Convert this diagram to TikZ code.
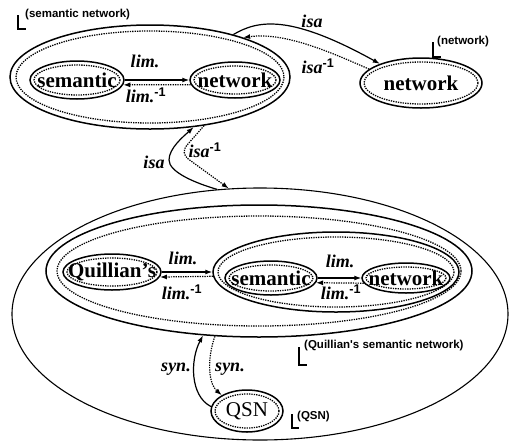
\documentclass[tikz,border=0pt]{standalone}
\usepackage{fontspec}
\setmainfont{Liberation Serif}
\newfontfamily\tagfont{Liberation Sans}
\usetikzlibrary{shapes.geometric, arrows.meta}

\newcommand{\minusone}{\textsuperscript{\tagfont\bfseries\upshape -1}}
\newcommand{\concept}[7]{%
	\node[term, minimum width=2*#4pt, minimum height=2*#5pt, label={[wordtext]center:#7}] (#1) at (#2,#3) {};
	\draw[ring] (#1.center) ellipse [x radius=#4-#6, y radius=#5-#6];
}

\begin{document}
\begin{tikzpicture}[x=1pt, y=-1pt, >={Latex[length=7pt, width=5pt]},
	term/.style={ellipse, draw, inner sep=0pt, line width=1.5pt},
	ring/.style={dash pattern=on 1.3pt off 1.1pt, line width=1.3pt},
	wordtext/.style={font=\bfseries\fontsize{21}{21}\selectfont, inner sep=0pt},
	rel/.style={font=\bfseries\itshape\fontsize{18}{18}\selectfont, inner sep=0pt},
	tag/.style={font=\tagfont\bfseries\fontsize{11.5}{11.5}\selectfont, inner sep=0pt, anchor=west},
	fwd/.style={->, line width=1.2pt},
	bwd/.style={->, dash pattern=on 1.3pt off 1.1pt, line width=1.2pt},
	corner/.style={line width=1.2pt}]
	\useasboundingbox (0,0) rectangle (512,440);

	\concept{snet}{150}{77}{140}{52}{6}{}
	\concept{sem1}{77}{80}{47}{19}{4}{semantic}
	\concept{net1}{235}{80}{45}{18}{4}{network}
	\concept{net0}{421}{83}{61}{25}{4}{network}

	\node[term, line width=1.1pt, minimum width=496pt, minimum height=252pt] (qspace) at (260,314) {};
	\concept{qsnet}{259}{271}{213}{66}{11}{}
	\concept{snet2}{336}{272}{123}{40}{5}{}
	\concept{quil}{112}{272}{49}{18}{4}{Quillian's}
	\concept{sem2}{271}{278}{46}{17}{4}{semantic}
	\concept{net2}{406}{278}{44}{15}{4}{network}
	\concept{qsn}{247}{411}{36}{21}{4}{\mdseries QSN}

	\draw[fwd] (sem1.east) -- (net1.west);
	\draw[bwd] (net1.186) -- (sem1.-6);
	\draw[fwd] (quil.east) -- (snet2.west);
	\draw[bwd] (snet2.182) -- (quil.-6);
	\draw[fwd] (sem2.east) -- (net2.west);
	\draw[bwd] (net2.187) -- (sem2.-6);

	\draw[fwd] (snet.27) .. controls (258,20) and (290,14) .. (net0.155);
	\draw[bwd] (net0.165) .. controls (330,52) and (285,32) .. (snet.23);
	\draw[fwd] (qspace.109) .. controls (195,183) and (169,172) .. (169,160) .. controls (169,148) and (184,136) .. (snet.-49);
	\draw[bwd, rounded corners=10pt] (snet.-42) -- (180,153) -- (qspace.104);
	\draw[fwd] (qsn.173) .. controls (190,396) and (190,360) .. (qsnet.-131);
	\draw[bwd] (qsnet.-124) .. controls (208,355) and (207,382) .. (qsn.148);

	\node[rel] (isa1) at (312,21) {isa};
	\node[rel] (isainv1) at (318,66) {isa\minusone};
	\node[rel] (isa2) at (154,162) {isa};
	\node[rel] (isainv2) at (205,150) {isa\minusone};
	\node[rel] (lim1) at (145,61) {lim.};
	\node[rel] (liminv1) at (146,95) {lim.\minusone};
	\node[rel] (lim2) at (183,258) {lim.};
	\node[rel] (liminv2) at (182,292) {lim.\minusone};
	\node[rel] (lim3) at (340,261) {lim.};
	\node[rel] (liminv3) at (341,292) {lim.\minusone};
	\node[rel] (syn1) at (176,369) {syn.};
	\node[rel] (syn2) at (230,369) {syn.};

	\node[tag] (tsnet) at (25,15) {(semantic network)};
	\draw[corner] (18,15) |- (26,29);
	\node[tag] (tnet) at (437,42) {(network)};
	\draw[corner] (433,42) |- (441,57);
	\node[tag] (tqsnet) at (304,346) {(Quillian's semantic network)};
	\draw[corner] (299,347) |- (307,365);
	\node[tag] (tqsn) at (297,417) {(QSN)};
	\draw[corner] (292,414) |- (299,428);
\end{tikzpicture}
\end{document}
